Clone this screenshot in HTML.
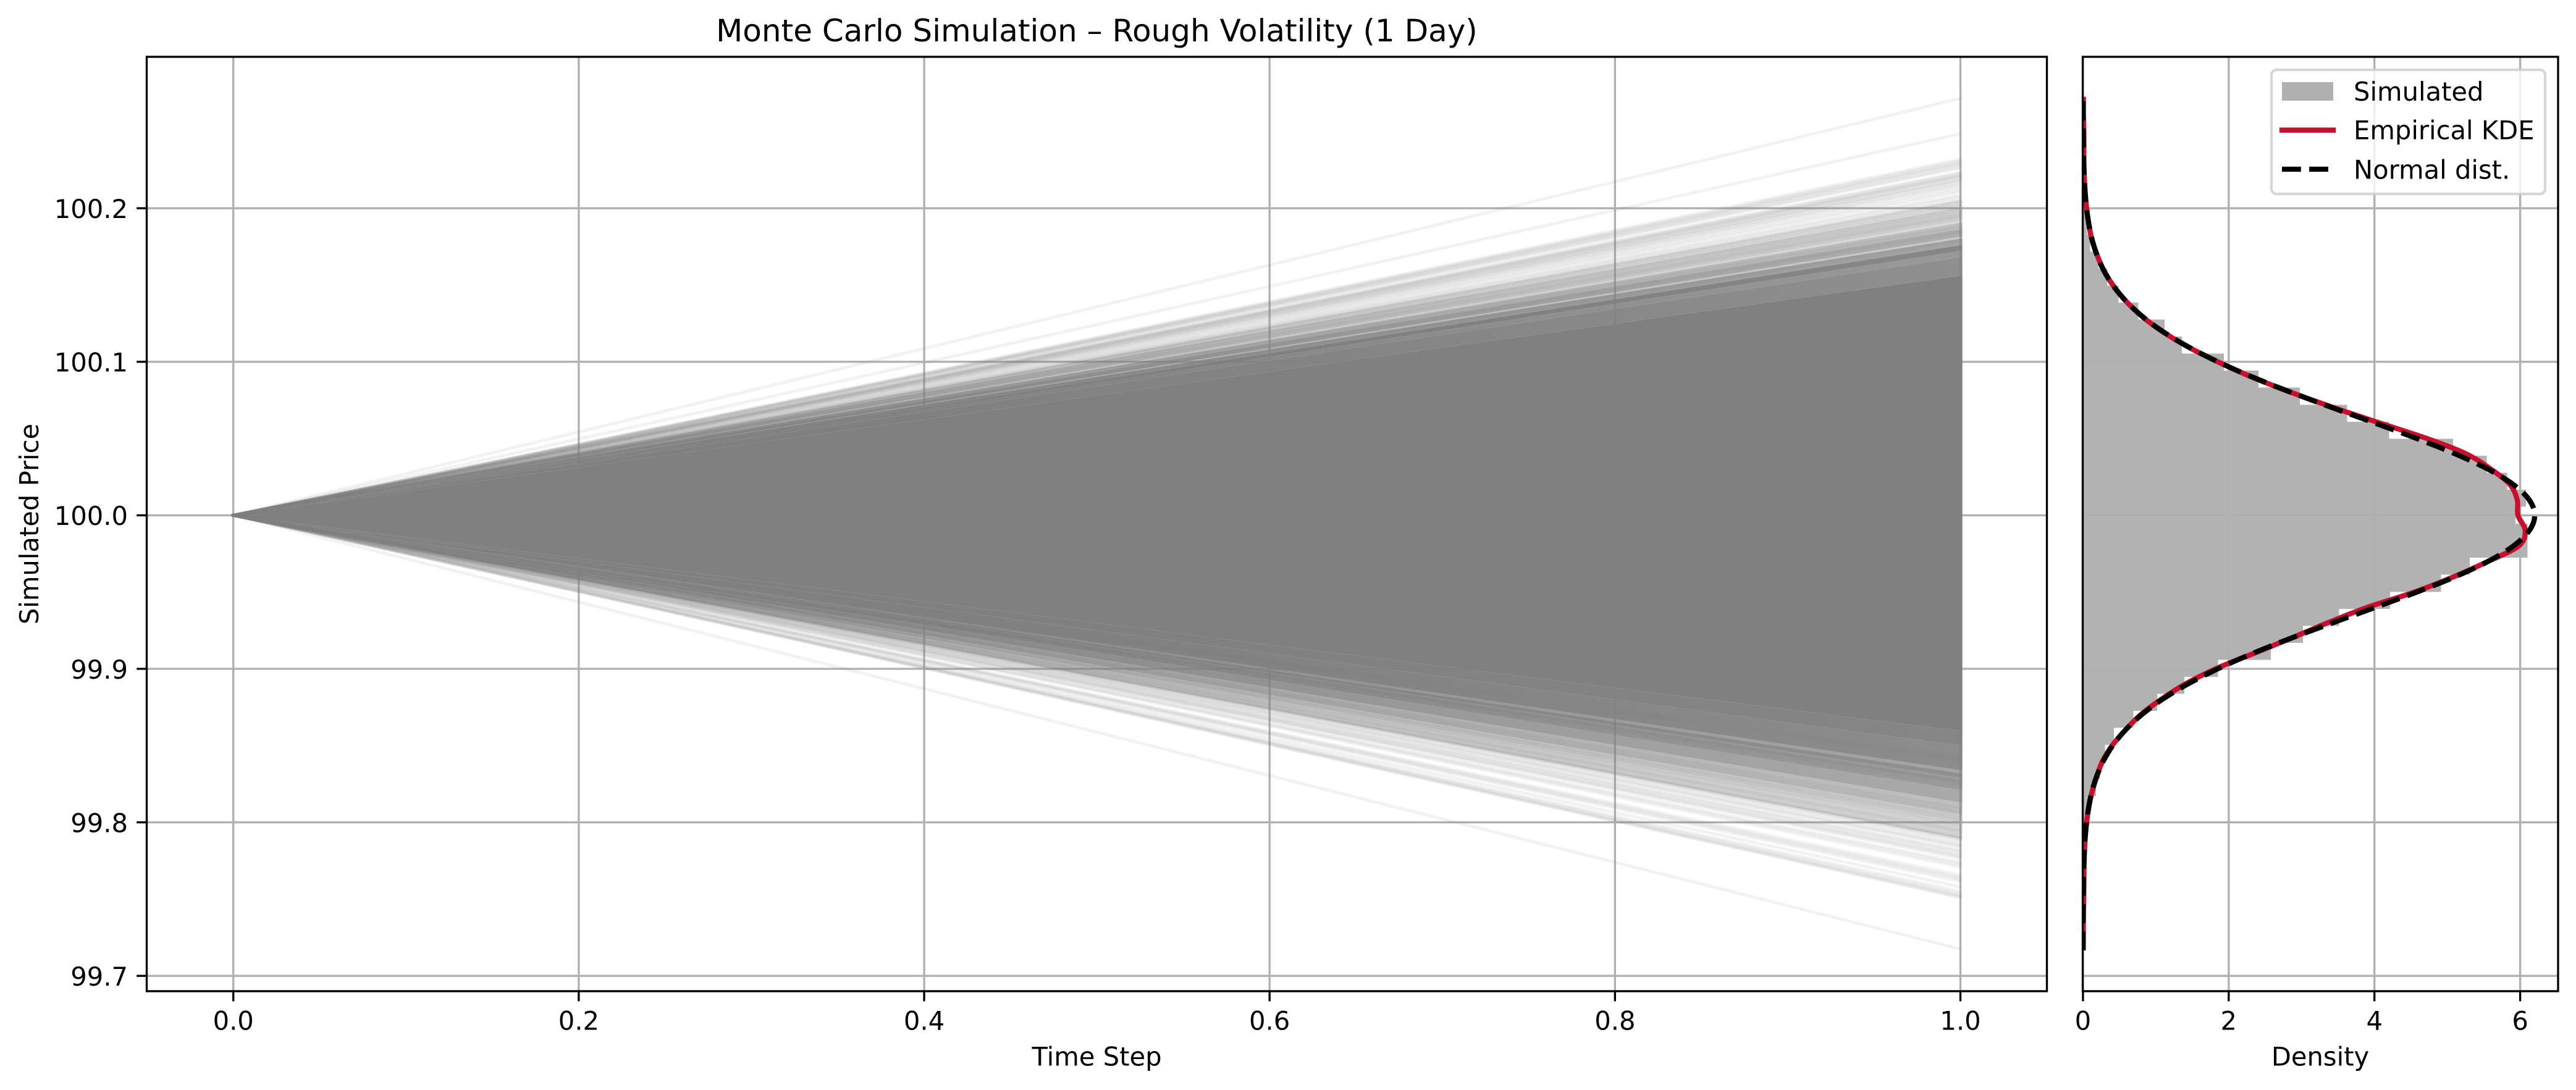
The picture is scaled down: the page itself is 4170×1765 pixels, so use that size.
<!DOCTYPE html>
<html lang="en">
<head>
<meta charset="utf-8">
<title>Monte Carlo Simulation – Rough Volatility (1 Day)</title>
<style>
html,body{margin:0;padding:0;background:#fff;}
svg{display:block;}
text{font-family:"DejaVu Sans","Liberation Sans",sans-serif;fill:#000;}
</style>
</head>
<body>
<svg id="chart" xmlns="http://www.w3.org/2000/svg" width="4170" height="1765" viewBox="0 0 4170 1765">
  <rect x="0" y="0" width="4170" height="1765" fill="#fff"/>
  <defs id="defs">
    <clipPath id="clip-main"><rect x="237.5" y="92" width="3076" height="1513"/></clipPath>
    <clipPath id="clip-hist"><rect x="3371.5" y="92" width="769.5" height="1513"/></clipPath>
  </defs>
  <g id="main-grid"></g>
  <g id="main-fan" clip-path="url(#clip-main)"></g>
  <g id="hist-grid"></g>
  <g id="hist-bars" clip-path="url(#clip-hist)"></g>
  <g id="hist-curves" clip-path="url(#clip-hist)"></g>
  <g id="ticks"></g>

  <rect x="237.5" y="92" width="3076" height="1513" fill="none" stroke="#000" stroke-width="3.33"/>
  <rect x="3371.5" y="92" width="769.5" height="1513" fill="none" stroke="#000" stroke-width="3.33"/>

  <text x="1775.5" y="67" font-size="50" text-anchor="middle">Monte Carlo Simulation – Rough Volatility (1 Day)</text>
  <text x="1775.5" y="1725.6" font-size="41.67" text-anchor="middle">Time Step</text>
  <text x="62" y="848.5" font-size="41.67" text-anchor="middle" transform="rotate(-90 62 848.5)">Simulated Price</text>
  <text x="3756" y="1725.6" font-size="41.67" text-anchor="middle">Density</text>

  <g>
    <rect x="3677" y="113" width="443" height="201" rx="8.3" ry="8.3" fill="#fff" fill-opacity="0.8" stroke="#ccc" stroke-opacity="0.8" stroke-width="4.17"/>
    <rect x="3694" y="133" width="83" height="30" fill="#b0b0b0"/>
    <line x1="3694" y1="210.7" x2="3777" y2="210.7" stroke="#c8102e" stroke-width="8.33" stroke-linecap="square"/>
    <line x1="3694" y1="274" x2="3777" y2="274" stroke="#000" stroke-width="8.33" stroke-dasharray="30.8 13.3"/>
    <text x="3810" y="163" font-size="41.67">Simulated</text>
    <text x="3810" y="225.7" font-size="41.67">Empirical KDE</text>
    <text x="3810" y="289.3" font-size="41.67">Normal dist.</text>
  </g>
</svg>

<script>
// ---------- data ----------
const timeTicks = [0.0, 0.2, 0.4, 0.6, 0.8, 1.0];
const timeTickLabels = ["0.0", "0.2", "0.4", "0.6", "0.8", "1.0"];
const priceTicks = [99.7, 99.8, 99.9, 100.0, 100.1, 100.2];
const priceTickLabels = ["99.7", "99.8", "99.9", "100.0", "100.1", "100.2"];
const densityTicks = [0, 2, 4, 6];
const densityTickLabels = ["0", "2", "4", "6"];

const startPrice = 100;

// Terminal prices of individually visible paths
const upperTerminalPrices = [
  100.2716,100.2485,
  100.2320,100.2308,100.2300,100.2290,100.2284,100.2270,100.2262,
  100.2235,100.2228,100.2218,100.2212,100.2208,100.2203,
  100.2190,100.2186,100.2178,100.2170,100.2158,100.2150,
  100.2135,100.2120,100.2105,100.2085,100.2075,
  100.2060,100.2050,100.2045,100.2035,100.2025,100.2015,100.2005,
  100.1990,100.1975,100.1950,100.1880,100.1845,100.1790,100.1745,100.1742,100.1738
];
const lowerTerminalPrices = [
  99.7175,99.7510,99.7515,99.7525,99.7535,99.7550,
  99.7580,99.7615,99.7630,99.7640,99.7655,
  99.7710,99.7725,99.7738,99.7765,99.7798,
  99.7778,99.7785,99.7810,99.7820,99.7840,99.7848,
  99.7860,99.7875,99.7888,99.7894,99.7898,99.7904,
  99.7912,99.7925,99.7937,99.7945,99.7952,99.7965,99.7978,99.7988,99.7996,
  99.8015,99.8028,99.8042,99.8068,99.8092,99.8240,99.8262,99.8265,99.8270,99.8400,99.8420
];

// Dense price bands at the horizon: low edge, high edge, paths inside
const bandLowPrices  = [99.8595,100.156,100.168,100.172,100.176,100.1802,100.1815,100.1865,100.1905,100.192,100.197,100.2005,
                        99.85,99.834,99.832,99.829,99.821,99.813,99.805,99.80,99.7895];
const bandHighPrices = [100.156,100.168,100.172,100.176,100.1802,100.1815,100.1865,100.1905,100.192,100.197,100.2005,100.205,
                        99.8595,99.85,99.834,99.832,99.829,99.821,99.813,99.805,99.80];
const bandPathCounts = [9000,146,37,58,30,4,29,16,3,14,8,4,
                        165,212,14,35,69,51,32,12,15];

// Histogram (50 bins, low price to high price)
const histFirstEdge = 99.7175;
const histBinWidth = 0.01108;
const histDensity = [
  0.009,0.009,0.009,0.009,0.009,0.009,0.018,0.036,0.08,0.178,
  0.235,0.302,0.426,0.692,1.02,1.393,1.854,2.577,3.02,3.513,
  4.213,4.914,5.31,6.1,6.1,5.934,6.08,5.823,5.54,5.078,
  4.2,3.624,2.976,2.408,1.934,1.357,1.122,0.759,0.488,0.333,
  0.213,0.10,0.058,0.03,0.013,0.009,0.009,0.009,0.0,0.009
];

// Density curves sampled on a common price grid
const curvePrices = [
  99.7166,99.72,99.73,99.74,99.75,99.76,99.77,99.78,99.79,99.80,
  99.81,99.82,99.83,99.84,99.85,99.86,99.87,99.88,99.89,99.90,
  99.91,99.92,99.93,99.94,99.95,99.96,99.97,99.98,99.99,100.0,
  100.01,100.02,100.03,100.04,100.05,100.06,100.07,100.08,100.09,100.10,
  100.11,100.12,100.13,100.14,100.15,100.16,100.17,100.18,100.19,100.20,
  100.21,100.22,100.23,100.24,100.25,100.26,100.27,100.2726
];
const kdeDensity = [
  0.004,0.004,0.005,0.006,0.01,0.012,0.014,0.02,0.03,0.05,
  0.08,0.125,0.19,0.27,0.40,0.58,0.79,1.07,1.40,1.82,
  2.34,2.86,3.36,3.90,4.55,5.09,5.56,5.98,6.07,5.97,
  5.96,5.86,5.60,5.26,4.72,4.08,3.45,2.86,2.32,1.85,
  1.43,1.08,0.80,0.58,0.41,0.28,0.19,0.12,0.08,0.05,
  0.03,0.018,0.012,0.012,0.012,0.006,0.006,0.005
];
const normalDensity = [
  0.0005,0.0005,0.001,0.002,0.003,0.006,0.010,0.018,0.030,0.049,
  0.079,0.123,0.188,0.280,0.408,0.580,0.803,1.086,1.435,1.850,
  2.328,2.859,3.428,4.011,4.582,5.109,5.561,5.907,6.125,6.2,
  6.125,5.907,5.561,5.109,4.582,4.011,3.428,2.859,2.328,1.850,
  1.435,1.086,0.803,0.580,0.408,0.280,0.188,0.123,0.079,0.049,
  0.030,0.018,0.010,0.006,0.003,0.002,0.001,0.001
];

// ---------- axis functions ----------
const SVG_NS = "http://www.w3.org/2000/svg";
function xTime(t){ return 377.7 + t * 2795.8; }
function yPrice(p){ return 834.4 - (p - 100) * 2486; }
function xDensity(d){ return 3371.9 + d * 117.95; }
function make(tag, parent){
  const el = document.createElementNS(SVG_NS, tag);
  parent.appendChild(el);
  return el;
}
const gMainGrid = document.getElementById('main-grid');
const gHistGrid = document.getElementById('hist-grid');
const gFan = document.getElementById('main-fan');
const gBars = document.getElementById('hist-bars');
const gCurves = document.getElementById('hist-curves');
const gTicks = document.getElementById('ticks');
const defsEl = document.getElementById('defs');

// ---------- grid lines ----------
timeTicks.forEach(function(t){
  const el = make('line', gMainGrid);
  
  
  el.setAttribute('x1', xTime(t)); el.setAttribute('x2', xTime(t));
  el.setAttribute('y1', 92); el.setAttribute('y2', 1605);
  el.setAttribute('stroke', '#b0b0b0'); el.setAttribute('stroke-width', 3.33);
});
priceTicks.forEach(function(p){
  const el = make('line', gMainGrid);
  
  
  el.setAttribute('x1', 237.5); el.setAttribute('x2', 3313.5);
  el.setAttribute('y1', yPrice(p)); el.setAttribute('y2', yPrice(p));
  el.setAttribute('stroke', '#b0b0b0'); el.setAttribute('stroke-width', 3.33);
  const h = make('line', gHistGrid);
  
  
  h.setAttribute('x1', 3371.5); h.setAttribute('x2', 4141);
  h.setAttribute('y1', yPrice(p)); h.setAttribute('y2', yPrice(p));
  h.setAttribute('stroke', '#b0b0b0'); h.setAttribute('stroke-width', 3.33);
});
densityTicks.forEach(function(d){
  const el = make('line', gHistGrid);
  
  
  el.setAttribute('x1', xDensity(d)); el.setAttribute('x2', xDensity(d));
  el.setAttribute('y1', 92); el.setAttribute('y2', 1605);
  el.setAttribute('stroke', '#b0b0b0'); el.setAttribute('stroke-width', 3.33);
});

// ---------- path bands: overlap rises toward the origin as paths converge ----------
const PATH_ALPHA = 0.1;
const PATH_WIDTH = 5;
const bandWidthInPrice = 4.17 / 2486;
const gradientTimes = [0.03, 0.05, 0.1, 0.15, 0.2, 0.3, 0.4, 0.5, 0.6, 0.7, 0.8, 0.9, 1];
const capScale = 1 + 3.2 / (xTime(1) - xTime(0));
bandLowPrices.forEach(function(low, i){
  const high = bandHighPrices[i];
  const overlap = bandPathCounts[i] * bandWidthInPrice / (high - low);
  const grad = make('linearGradient', defsEl);
  grad.setAttribute('id', 'band-gradient-' + i);
  grad.setAttribute('gradientUnits', 'userSpaceOnUse');
  grad.setAttribute('x1', xTime(0)); grad.setAttribute('x2', xTime(1));
  grad.setAttribute('y1', 0); grad.setAttribute('y2', 0);
  gradientTimes.forEach(function(t){
    const stop = make('stop', grad);
    stop.setAttribute('offset', t);
    stop.setAttribute('stop-color', '#808080');
    stop.setAttribute('stop-opacity', (1 - Math.pow(1 - PATH_ALPHA, overlap / t)).toFixed(4));
  });
  const band = make('polygon', gFan);
  
  
  const x0 = xTime(0), y0 = yPrice(startPrice);
  const xe = x0 + (xTime(1) - x0) * capScale;
  const yHigh = y0 + (yPrice(high) - y0) * capScale;
  const yLow = y0 + (yPrice(low) - y0) * capScale;
  band.setAttribute('points', x0 + ',' + y0 + ' ' + xe + ',' + yHigh + ' ' + xe + ',' + yLow);
  band.setAttribute('fill', 'url(#band-gradient-' + i + ')');
});

// ---------- individual paths ----------
upperTerminalPrices.concat(lowerTerminalPrices).forEach(function(p){
  const el = make('line', gFan);
  
  
  el.setAttribute('x1', xTime(0)); el.setAttribute('y1', yPrice(startPrice));
  el.setAttribute('x2', xTime(1)); el.setAttribute('y2', yPrice(p));
  el.setAttribute('stroke', '#808080'); el.setAttribute('stroke-opacity', PATH_ALPHA);
  el.setAttribute('stroke-width', PATH_WIDTH); el.setAttribute('stroke-linecap', 'square');
});

// ---------- histogram bars ----------
histDensity.forEach(function(d, k){
  const low = histFirstEdge + k * histBinWidth;
  const high = low + histBinWidth;
  const el = make('rect', gBars);
  
  
  el.setAttribute('x', xDensity(0));
  el.setAttribute('y', yPrice(high));
  el.setAttribute('width', Math.max(0, xDensity(d) - xDensity(0)));
  el.setAttribute('height', yPrice(low) - yPrice(high));
  el.setAttribute('fill', '#afafaf');
  el.setAttribute('fill-opacity', 0.97);
  el.setAttribute('shape-rendering', 'crispEdges');
});

// ---------- density curves ----------
function curvePath(densities){
  const pts = curvePrices.map(function(p, i){ return [xDensity(densities[i]), yPrice(p)]; });
  let d = 'M' + pts[0][0].toFixed(2) + ' ' + pts[0][1].toFixed(2);
  for (let i = 0; i < pts.length - 1; i++){
    const p0 = pts[Math.max(0, i - 1)], p1 = pts[i], p2 = pts[i + 1], p3 = pts[Math.min(pts.length - 1, i + 2)];
    const c1x = p1[0] + (p2[0] - p0[0]) / 6, c1y = p1[1] + (p2[1] - p0[1]) / 6;
    const c2x = p2[0] - (p3[0] - p1[0]) / 6, c2y = p2[1] - (p3[1] - p1[1]) / 6;
    d += 'C' + c1x.toFixed(2) + ' ' + c1y.toFixed(2) + ' ' + c2x.toFixed(2) + ' ' + c2y.toFixed(2) + ' ' + p2[0].toFixed(2) + ' ' + p2[1].toFixed(2);
  }
  return d;
}
const kdeLine = make('path', gCurves);


kdeLine.setAttribute('d', curvePath(kdeDensity));
kdeLine.setAttribute('fill', 'none');
kdeLine.setAttribute('stroke', '#c8102e');
kdeLine.setAttribute('stroke-width', 8.33);
const normalLine = make('path', gCurves);


normalLine.setAttribute('d', curvePath(normalDensity));
normalLine.setAttribute('fill', 'none');
normalLine.setAttribute('stroke', '#000');
normalLine.setAttribute('stroke-width', 8.33);
normalLine.setAttribute('stroke-dasharray', '30.8 13.3');

// ---------- ticks and tick labels ----------
function bottomTick(x, label, name){
  const tick = make('line', gTicks);
  
  
  tick.setAttribute('x1', x); tick.setAttribute('x2', x);
  tick.setAttribute('y1', 1605); tick.setAttribute('y2', 1621.3);
  tick.setAttribute('stroke', '#000'); tick.setAttribute('stroke-width', 3.33);
  const txt = make('text', gTicks);
  
  
  txt.setAttribute('x', x); txt.setAttribute('y', 1667.7);
  txt.setAttribute('font-size', 41.67);
  txt.setAttribute('text-anchor', 'middle');
  txt.textContent = label;
}
timeTicks.forEach(function(t, i){ bottomTick(xTime(t), timeTickLabels[i], 'time'); });
densityTicks.forEach(function(d, i){ bottomTick(xDensity(d), densityTickLabels[i], 'density'); });
priceTicks.forEach(function(p, i){
  const y = yPrice(p);
  const tick = make('line', gTicks);
  
  
  tick.setAttribute('x1', 221.2); tick.setAttribute('x2', 237.5);
  tick.setAttribute('y1', y); tick.setAttribute('y2', y);
  tick.setAttribute('stroke', '#000'); tick.setAttribute('stroke-width', 3.33);
  const txt = make('text', gTicks);
  
  
  txt.setAttribute('x', 207); txt.setAttribute('y', y + 15.8);
  txt.setAttribute('font-size', 41.67);
  txt.setAttribute('text-anchor', 'end');
  txt.textContent = priceTickLabels[i];
});
</script>
</body>
</html>
